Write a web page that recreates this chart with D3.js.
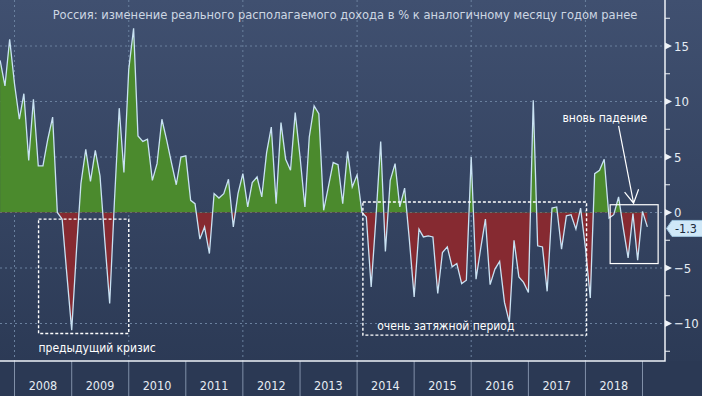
<!DOCTYPE html>
<html>
<head>
<meta charset="utf-8">
<script src="https://cdn.jsdelivr.net/npm/d3@7/dist/d3.min.js"></script>
<style>
  html, body { margin: 0; padding: 0; background: #2b3954; }
  svg { display: block; }
</style>
</head>
<body>
<div id="chart"></div>
<script>
// 数据: реальный располагаемый доход, % г/г, помесячно с сен 2007 по янв 2019
const title = "Россия: изменение реального располагаемого дохода в % к аналогичному месяцу годом ранее"
const firstMonth = new Date(2007, 8, 1)
const values = [
  13.7, 11.4, 15.6, 11.6, 8.4, 10.7, 4.7, 10.2, 4.2, 4.2, 6.6, 8.6,
  0.0, -0.6, -5.6, -10.6, -3.3, 2.6, 5.7, 2.8, 5.6, 3.3, -2.6, -8.2,
  0.9, 9.4, 3.6, 12.9, 16.6, 6.9, 6.4, 6.6, 2.9, 4.4, 8.4, 6.5,
  4.5, 2.5, 5.0, 5.1, 1.1, 0.8, -2.4, -1.3, -3.7, 1.7, 1.3, 1.7,
  3.0, -1.3, 1.7, 3.5, 0.5, 2.7, 3.2, 1.4, 5.4, 7.7, 0.8, 8.1,
  4.8, 3.8, 9.0, 5.0, 0.5, 6.8, 9.6, 8.9, 0.2, 2.3, 4.5, 4.3,
  0.8, 5.5, 2.3, 3.4, 0.0, -0.4, -6.7, -0.6, 6.4, -3.5, 2.9, 4.4,
  0.5, 2.2, -2.4, -7.6, -1.5, -2.2, -2.1, -2.2, -7.3, -3.6, -3.1, -4.9,
  -4.6, -6.4, -6.1, 5.0, -6.0, -3.3, -0.6, -6.5, -5.1, -4.4, -8.1, -9.9,
  -2.5, -5.8, -6.3, -7.2, 10.1, -3.0, -3.1, -7.1, 0.4, 0.5, -3.3, -0.3,
  -0.2, -1.5, 0.4, -3.2, -7.7, 3.5, 3.8, 4.8, -0.5, -0.2, 1.4, -1.5,
  -4.1, -0.1, -4.3, 0.1, -1.3
]
const years = [2008, 2009, 2010, 2011, 2012, 2013, 2014, 2015, 2016, 2017, 2018]
const yMajor = [-10, -5, 0, 5, 10, 15]
const yMinor = [-12.5, -7.5, -2.5, 2.5, 7.5, 12.5, 17.5]
const gridYears = [2008, 2010, 2012, 2014, 2016, 2018]
const lastValue = values[values.length - 1]

const width = 702
const height = 396
const plotRight = 665
const plotBottom = 361
const font = "'DejaVu Sans Condensed', 'DejaVu Sans', sans-serif"

// точка месяца ставится на конец месяца
const data = values.map((v, i) => ({
  date: new Date(firstMonth.getFullYear(), firstMonth.getMonth() + i + 1, 1),
  value: v
}))

const x = d3.scaleTime()
  .domain([new Date(2008, 0, 1), new Date(2019, 0, 1)])
  .range([14.5, 642.5])
const y = d3.scaleLinear()
  .domain([-10, 15])
  .range([323.5, 46])

const svg = d3.select("#chart")
  .append("svg")
  .attr("width", width)
  .attr("height", height)
  .attr("viewBox", [0, 0, width, height])

const defs = svg.append("defs")
const grad = defs.append("linearGradient")
  .attr("id", "bg").attr("x1", 0).attr("y1", 0).attr("x2", 0).attr("y2", 1)
grad.append("stop").attr("offset", "0%").attr("stop-color", "#405070")
grad.append("stop").attr("offset", "100%").attr("stop-color", "#2a3853")

defs.append("clipPath").attr("id", "above")
  .append("rect").attr("x", 0).attr("y", 0).attr("width", plotRight).attr("height", y(0))
defs.append("clipPath").attr("id", "below")
  .append("rect").attr("x", 0).attr("y", y(0)).attr("width", plotRight).attr("height", plotBottom - y(0))

svg.append("rect")
  .attr("width", width).attr("height", height)
  .attr("fill", "url(#bg)")

// сетка
svg.append("g")
  .selectAll("line")
  .data(yMajor)
  .join("line")
  .attr("x1", 0).attr("x2", plotRight)
  .attr("y1", d => y(d)).attr("y2", d => y(d))
  .attr("stroke", "#6a809e")
  .attr("stroke-width", 1)
  .attr("stroke-dasharray", "2,3")

svg.append("g")
  .selectAll("line")
  .data(gridYears)
  .join("line")
  .attr("x1", d => x(new Date(d, 0, 1))).attr("x2", d => x(new Date(d, 0, 1)))
  .attr("y1", 0).attr("y2", plotBottom)
  .attr("stroke", "#6a809e")
  .attr("stroke-width", 1)
  .attr("stroke-dasharray", "2,3")

// заливка выше / ниже нуля
const area = d3.area()
  .x(d => x(d.date))
  .y0(y(0))
  .y1(d => y(d.value))

svg.append("path")
  .datum(data)
  .attr("clip-path", "url(#above)")
  .attr("fill", "#4b8a2d")
  .attr("d", area)

svg.append("path")
  .datum(data)
  .attr("clip-path", "url(#below)")
  .attr("fill", "#862a31")
  .attr("d", area)

const line = d3.line()
  .x(d => x(d.date))
  .y(d => y(d.value))

svg.append("path")
  .datum(data)
  .attr("fill", "none")
  .attr("stroke", "#c9e2f3")
  .attr("stroke-width", 1.3)
  .attr("d", line)

// аннотации
const box = (d1, d2, v1, v2) => ({
  x: x(d1), y: y(v1), w: x(d2) - x(d1), h: y(v2) - y(v1)
})
const dashedBoxes = [
  box(new Date(2008, 5, 3), new Date(2010, 0, 1), -0.6, -10.9),
  box(new Date(2014, 1, 7), new Date(2018, 0, 8), 0.95, -11.05)
]
svg.append("g")
  .selectAll("rect")
  .data(dashedBoxes)
  .join("rect")
  .attr("x", d => d.x).attr("y", d => d.y)
  .attr("width", d => d.w).attr("height", d => d.h)
  .attr("fill", "none")
  .attr("stroke", "#ffffff")
  .attr("stroke-width", 1.4)
  .attr("stroke-dasharray", "3,2")

const recent = box(new Date(2018, 5, 8), new Date(2019, 3, 11), 0.7, -4.6)
svg.append("rect")
  .attr("x", recent.x).attr("y", recent.y)
  .attr("width", recent.w).attr("height", recent.h)
  .attr("fill", "none")
  .attr("stroke", "#ffffff")
  .attr("stroke-width", 1.2)

const noteStyle = g => g
  .attr("fill", "#ffffff")
  .attr("font-family", font)
  .attr("font-size", "12px")

svg.append("text")
  .attr("x", x(new Date(2008, 5, 3)))
  .attr("y", y(-12.2) + 4)
  .call(noteStyle)
  .text("предыдущий кризис")

svg.append("text")
  .attr("x", x(new Date(2014, 4, 10)))
  .attr("y", y(-10.2) + 4)
  .call(noteStyle)
  .text("очень затяжной период")

svg.append("text")
  .attr("x", x(new Date(2018, 4, 5)))
  .attr("y", y(8.5) + 4)
  .attr("text-anchor", "middle")
  .call(noteStyle)
  .text("вновь падение")

// стрелка
const tip = [x(new Date(2018, 10, 5)), y(0.84)]
svg.append("path")
  .attr("d", `M${x(new Date(2018, 7, 1))},${y(7.8)}L${tip[0]},${tip[1]}`
    + `M${tip[0] - 9},${tip[1] - 11}L${tip[0]},${tip[1]}L${tip[0] + 5},${tip[1] - 14}`)
  .attr("fill", "none")
  .attr("stroke", "#ffffff")
  .attr("stroke-width", 1.2)

// ось X
svg.append("rect")
  .attr("x", 0).attr("y", plotBottom)
  .attr("width", width).attr("height", height - plotBottom)
  .attr("fill", "#2b3954")

svg.append("g")
  .selectAll("line")
  .data(years.concat([2019]))
  .join("line")
  .attr("x1", d => x(new Date(d, 0, 1))).attr("x2", d => x(new Date(d, 0, 1)))
  .attr("y1", plotBottom).attr("y2", height)
  .attr("stroke", "#8190a8")
  .attr("stroke-width", 1)

svg.append("g")
  .selectAll("text")
  .data(years)
  .join("text")
  .attr("x", d => x(new Date(d, 6, 1)))
  .attr("y", 390)
  .attr("text-anchor", "middle")
  .attr("fill", "#e6ecf3")
  .attr("font-family", font)
  .attr("font-size", "12.5px")
  .text(d => d)

// рамка графика
svg.append("path")
  .attr("d", `M0,${plotBottom}H${plotRight}V0`)
  .attr("fill", "none")
  .attr("stroke", "#eef2f7")
  .attr("stroke-width", 1.5)

// ось Y справа
const yAxis = svg.append("g").attr("transform", `translate(${plotRight},0)`)

yAxis.selectAll(".minor")
  .data(yMinor)
  .join("line")
  .attr("class", "minor")
  .attr("x1", 0).attr("x2", 5)
  .attr("y1", d => y(d)).attr("y2", d => y(d))
  .attr("stroke", "#eef2f7")
  .attr("stroke-width", 1)

yAxis.selectAll(".tri")
  .data(yMajor)
  .join("path")
  .attr("class", "tri")
  .attr("d", d => `M0,${y(d) - 3.5}L7,${y(d)}L0,${y(d) + 3.5}Z`)
  .attr("fill", "#eef2f7")

yAxis.selectAll(".lbl")
  .data(yMajor)
  .join("text")
  .attr("class", "lbl")
  .attr("x", 9)
  .attr("y", d => y(d) + 4.5)
  .attr("fill", "#e6ecf3")
  .attr("font-family", font)
  .attr("font-size", "13px")
  .text(d => d < 0 ? "\u2212" + Math.abs(d) : d)

// метка последнего значения
const ly = y(lastValue) + 1.5
yAxis.append("path")
  .attr("d", `M1.5,${ly}L7,${ly - 8}H40V${ly + 8}H7Z`)
  .attr("fill", "#cfe8f8")
  .attr("stroke", "#9cc2dc")
  .attr("stroke-width", 1)
yAxis.append("text")
  .attr("x", 10)
  .attr("y", ly + 4.5)
  .attr("fill", "#1d2b3e")
  .attr("font-family", font)
  .attr("font-size", "12.5px")
  .text(lastValue.toFixed(1))

// заголовок
svg.append("text")
  .attr("x", 345)
  .attr("y", 19)
  .attr("text-anchor", "middle")
  .attr("fill", "#cdd7e3")
  .attr("font-family", font)
  .attr("font-size", "12.8px")
  .text(title)
</script>
</body>
</html>
